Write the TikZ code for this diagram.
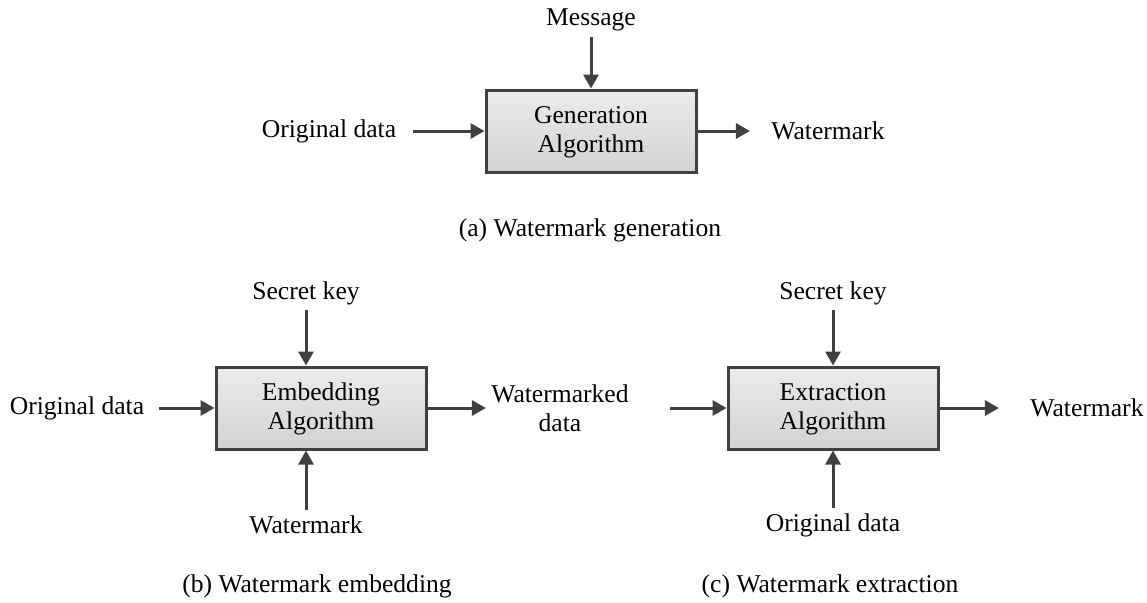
\documentclass[tikz,border=0pt]{standalone}
\usepackage{fontspec}
\setmainfont{Liberation Serif}
\usetikzlibrary{%
  arrows.meta,%
  shadows,%
  positioning%
}
\definecolor{linegray}{HTML}{404040}

\begin{document}
\begin{tikzpicture}
[x=0.5pt, y=-0.5pt, line width=1.5pt, draw=linegray,
>={Triangle[length=7pt,width=7.5pt]},
font=\fontsize{12.8}{14.5}\selectfont,
algo/.style={rectangle, draw=linegray, line width=1.5pt, align=center,
  minimum width=105pt, minimum height=41pt, inner sep=0pt,
  top color=gray!15, bottom color=gray!35,
  drop shadow={shadow xshift=1.2pt, shadow yshift=-1.2pt, fill=black, opacity=0.18}},
txt/.style={inner sep=2pt, align=center},
flow/.style={->, draw=linegray, line width=1.5pt}]

\useasboundingbox (0,0) rectangle (1147,602);

% (a) generation
\node[algo] (gen) at (591,131) {\strut Generation\\Algorithm};
\node[txt] (msg) at (591,20) {Message}
  edge [flow] (gen);
\node[txt] (odA) at (329,131) {Original data}
  edge [flow, shorten <=5.5pt] (gen);
\node[txt] (wmA) at (828,131) {Watermark}
  edge [flow, <-, shorten <=8pt] (gen);
\node[txt] (capA) at (590,230) {(a) Watermark generation};

% (b) embedding
\node[algo] (emb) at (321,408) {\strut Embedding\\Algorithm};
\node[txt] (skB) at (306,293) {Secret key};
\node[txt] (odB) at (77,408) {Original data}
  edge [flow, shorten <=4.5pt] (emb);
\node[txt] (wmB) at (306,525) {Watermark};
\draw[flow] (skB) -- (skB |- emb.north);
\draw[flow] (wmB) -- (wmB |- emb.south);
\node[txt] (wmd) at (560,408) {Watermarked\\data}
  edge [flow, <-] (emb);
\node[txt] (capB) at (317,586) {(b) Watermark embedding};

% (c) extraction
\node[algo] (ext) at (833,408) {\strut Extraction\\Algorithm};
\node[txt] (skC) at (833,293) {Secret key}
  edge [flow] (ext);
\node[txt] (odC) at (833,525) {Original data}
  edge [flow] (ext);
\draw[flow, shorten <=18pt] (wmd) -- (ext);
\node[txt] (wmC) at (1087,408) {Watermark}
  edge [flow, <-, shorten <=13pt] (ext);
\node[txt] (capC) at (830,586) {(c) Watermark extraction};
\end{tikzpicture}
\end{document}
